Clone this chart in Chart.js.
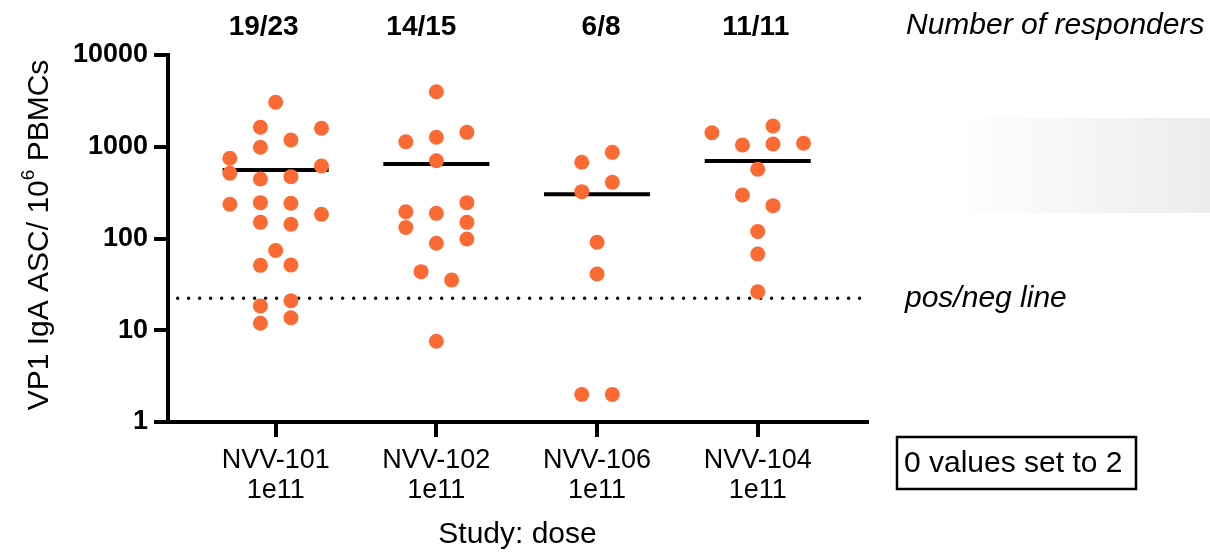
<!DOCTYPE html>
<html>
<head>
<meta charset="utf-8">
<script src="https://cdn.jsdelivr.net/npm/chart.js@4.4.1/dist/chart.umd.min.js"></script>
<style>
  html, body { margin: 0; padding: 0; background: #fff; }
  #wrap { width: 1210px; height: 560px; }
</style>
</head>
<body>
<div id="wrap"><canvas id="asc-chart" width="1210" height="560"></canvas></div>
<script>
// study groups on the x axis
const studies = ['NVV-101', 'NVV-102', 'NVV-106', 'NVV-104'];
const doses = ['1e11', '1e11', '1e11', '1e11'];
const responders = ['19/23', '14/15', '6/8', '11/11'];
const yTicks = [1, 10, 100, 1000, 10000];

// VP1 IgA ASC per 10^6 PBMCs (0 values set to 2)
const nvv101 = [3050, 1630, 1590, 1185, 987, 749, 514, 617, 445, 472, 236, 246, 242, 184, 150, 143, 74, 51, 51.5, 21, 18.4, 13.7, 11.9];
const nvv102 = [3980, 1135, 1268, 1436, 705, 196, 132, 188, 246, 150, 98.8, 88.7, 43.5, 35.3, 7.6];
const nvv106 = [677, 869, 410, 324, 90.9, 41, 2, 2];
const nvv104 = [1422, 1045, 1683, 1071, 1090, 568, 298, 228, 119, 67.8, 26.3];

// horizontal spread column of each dot (scatter-dot-plot style)
const nvv101Col = [0, -1, 3, 1, -1, -3, -3, 3, -1, 1, -3, -1, 1, 3, -1, 1, 0, -1, 1, 1, -1, 1, -1];
const nvv102Col = [0, -2, 0, 2, 0, -2, -2, 0, 2, 2, 2, 0, -1, 1, 0];
const nvv106Col = [-1, 1, 1, -1, 0, 0, -1, 1];
const nvv104Col = [-3, -1, 1, 1, 3, 0, -1, 1, 0, 0, 0];

const medians = [558, 649, 303, 700];
const posNegCutoff = 22.3;

const groups = [nvv101, nvv102, nvv106, nvv104];
const cols = [nvv101Col, nvv102Col, nvv106Col, nvv104Col];

const DOT = 'rgb(252, 106, 52)';
const COL_W = 0.095;
const MED_HALF = 0.33;
const FONT = "'Liberation Sans', Arial, sans-serif";
const countNudge = [-12, -15, 4, -2];

const datasets = [];
groups.forEach((vals, g) => {
  datasets.push({
    type: 'scatter',
    data: vals.map((v, i) => ({ x: g + 1 + cols[g][i] * COL_W, y: v })),
    backgroundColor: DOT,
    borderWidth: 0,
    pointRadius: 7.5,
    order: 0
  });
});
medians.forEach((m, g) => {
  datasets.push({
    type: 'line',
    data: [{ x: g + 1 - MED_HALF, y: m }, { x: g + 1 + MED_HALF, y: m }],
    borderColor: '#000',
    borderWidth: 4,
    pointRadius: 0,
    order: 1
  });
});
datasets.push({
  type: 'line',
  data: [{ x: 0.39, y: posNegCutoff }, { x: 4.67, y: posNegCutoff }],
  borderColor: '#000',
  borderWidth: 3.5,
  borderDash: [0, 11],
  borderCapStyle: 'round',
  pointRadius: 0,
  order: 2
});

// extra text: counts above groups, notes on the right, y title with superscript
const annotations = {
  id: 'annotations',
  beforeDraw(chart) {
    const ctx = chart.ctx;
    ctx.save();
    const grad = ctx.createLinearGradient(950, 0, 1210, 0);
    grad.addColorStop(0, 'rgba(236,236,236,0)');
    grad.addColorStop(1, 'rgba(236,236,236,1)');
    ctx.fillStyle = grad;
    ctx.fillRect(950, 118, 260, 95);
    ctx.restore();
  },
  afterDraw(chart) {
    const ctx = chart.ctx;
    const xs = chart.scales.x;
    const ys = chart.scales.y;
    ctx.save();
    ctx.fillStyle = '#000';
    ctx.textBaseline = 'middle';

    ctx.font = 'bold 28px ' + FONT;
    ctx.textAlign = 'center';
    responders.forEach((r, i) => {
      ctx.fillText(r, xs.getPixelForValue(i + 1) + countNudge[i], 27);
    });

    ctx.textAlign = 'left';
    ctx.font = 'italic 30px ' + FONT;
    ctx.fillText('Number of responders', 906, 26);
    ctx.fillText('pos/neg line', 905, ys.getPixelForValue(posNegCutoff));

    ctx.font = '30px ' + FONT;
    ctx.fillText('0 values set to 2', 904, 464);
    ctx.lineWidth = 2.5;
    ctx.strokeStyle = '#000';
    ctx.strokeRect(897, 437, 239, 52);

    // rotated y axis title
    ctx.translate(40, 235);
    ctx.rotate(-Math.PI / 2);
    const a = 'VP1 IgA ASC/ 10', sup = '6', b = ' PBMCs';
    ctx.font = '30px ' + FONT;
    const wa = ctx.measureText(a).width, wb = ctx.measureText(b).width;
    ctx.font = '19px ' + FONT;
    const ws = ctx.measureText(sup).width;
    const start = -(wa + ws + wb) / 2;
    ctx.font = '30px ' + FONT;
    ctx.fillText(a, start, 0);
    ctx.font = '19px ' + FONT;
    ctx.fillText(sup, start + wa, -11);
    ctx.font = '30px ' + FONT;
    ctx.fillText(b, start + wa + ws, 0);
    ctx.restore();
  }
};

new Chart(document.getElementById('asc-chart'), {
  data: { datasets: datasets },
  options: {
    responsive: false,
    animation: false,
    layout: { padding: { top: 55, right: 343, left: 0, bottom: 0 } },
    plugins: { legend: { display: false }, tooltip: { enabled: false } },
    scales: {
      x: {
        type: 'linear',
        min: 0.33,
        max: 4.68,
        afterFit: (s) => { s.height = 138; },
        afterBuildTicks: (s) => { s.ticks = studies.map((_, i) => ({ value: i + 1 })); },
        border: { display: true, color: '#000', width: 4 },
        grid: { drawOnChartArea: false, color: '#000', lineWidth: 4, tickLength: 15 },
        ticks: {
          color: '#000',
          font: { family: FONT, size: 27, lineHeight: 1.12 },
          padding: 8,
          maxRotation: 0,
          callback: (v) => [studies[v - 1], doses[v - 1]]
        },
        title: {
          display: true,
          text: 'Study: dose',
          color: '#000',
          font: { family: FONT, size: 30, lineHeight: 1.15 },
          padding: { top: 0, bottom: 8 }
        }
      },
      y: {
        type: 'logarithmic',
        min: 1,
        max: 10000,
        afterFit: (s) => { s.width = 168; },
        afterBuildTicks: (s) => { s.ticks = yTicks.map(v => ({ value: v })); },
        border: { display: true, color: '#000', width: 4 },
        grid: { drawOnChartArea: false, color: '#000', lineWidth: 4, tickLength: 14 },
        ticks: {
          color: '#000',
          font: { family: FONT, size: 27, weight: 'bold' },
          padding: 6,
          callback: (v) => String(v)
        }
      }
    }
  },
  plugins: [annotations]
});
</script>
</body>
</html>
